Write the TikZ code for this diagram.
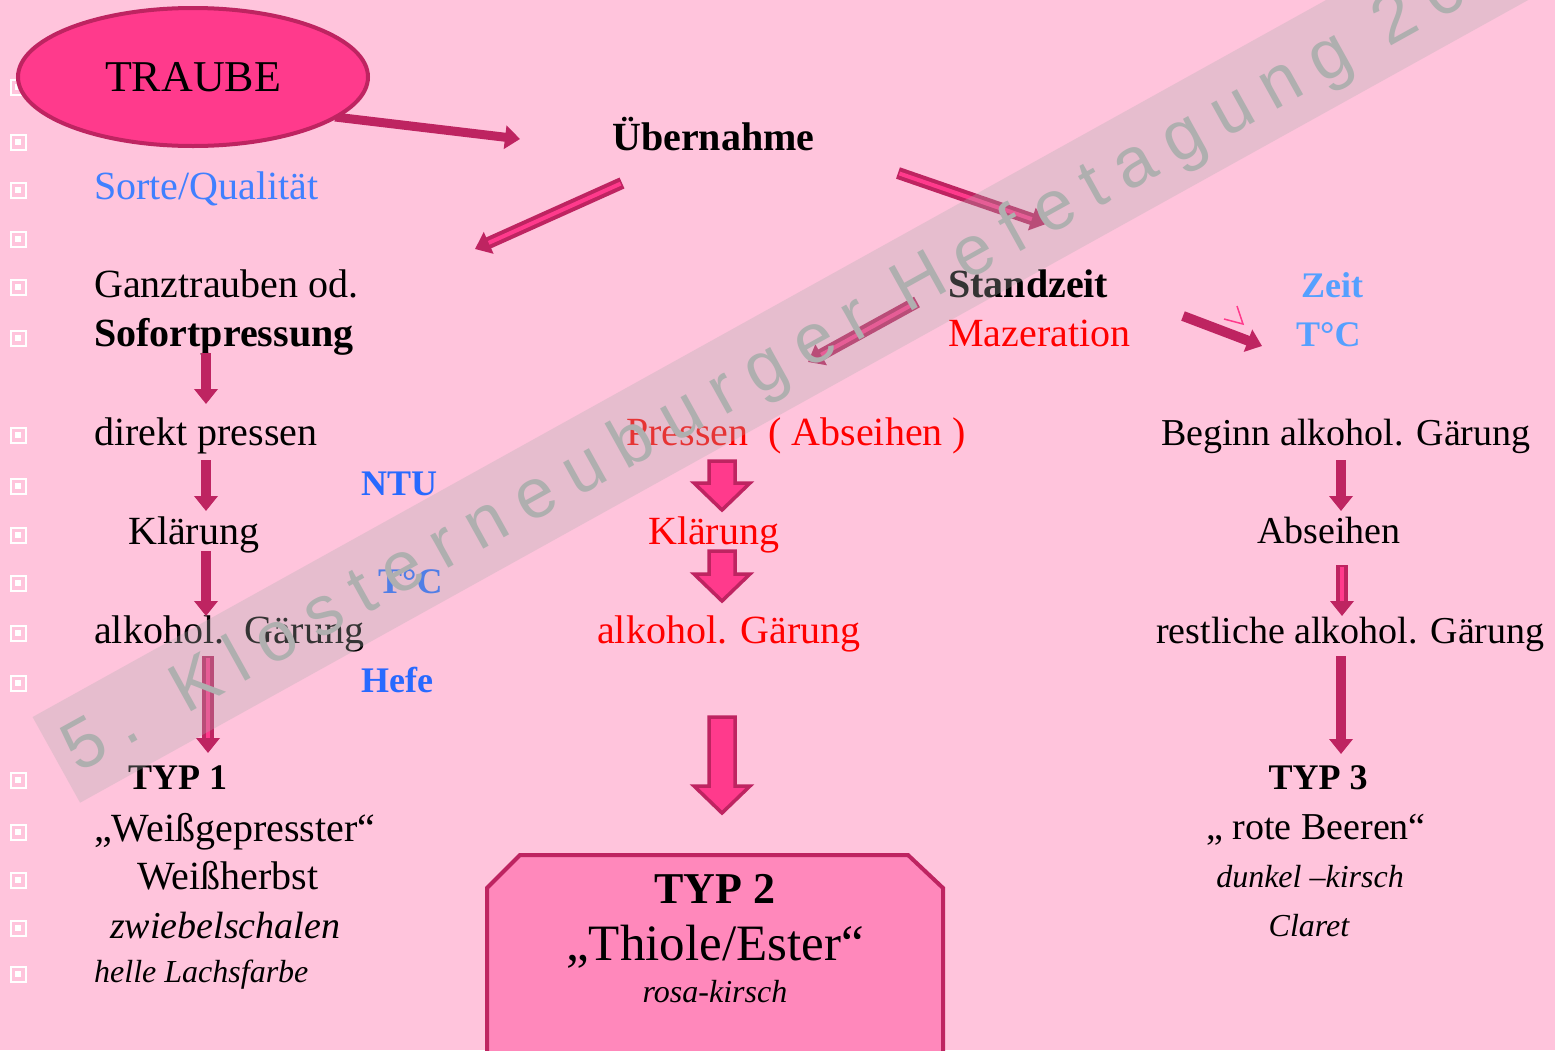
\documentclass[tikz,border=0pt]{standalone}
\usepackage{fontspec}
\setmainfont{Liberation Serif}
\newfontfamily\wmfont[LetterSpace=24]{Liberation Sans}
\usetikzlibrary{arrows.meta,shapes.geometric}
\definecolor{bgpink}{RGB}{255,196,220}
\definecolor{arrowdark}{RGB}{190,36,97}
\definecolor{hotpink}{RGB}{255,58,140}
\definecolor{boxpink}{RGB}{255,136,187}
\definecolor{sorteblue}{RGB}{64,128,255}
\definecolor{boldblue}{RGB}{40,105,255}
\definecolor{lightblue}{RGB}{85,160,255}
\definecolor{wmgray}{RGB}{175,175,175}
\newcommand{\arrowcolor}{arrowdark}
\newcommand{\stripecolor}{hotpink}
\tikzset{
  txt/.style={inner sep=0pt,anchor=base west,font=\fontsize{40}{48}\selectfont},
  ctxt/.style={txt,anchor=base},
  boldtxt/.style={txt,font=\fontsize{40}{48}\selectfont\bfseries},
  boldcaps/.style={txt,font=\fontsize{36}{44}\selectfont\bfseries},
  righttxt/.style={txt,font=\fontsize{38}{46}\selectfont},
  smallit/.style={txt,font=\fontsize{32}{38}\selectfont\itshape},
  traubeshape/.style={ellipse,minimum width=350pt,minimum height=138pt,inner sep=0pt,
    fill=hotpink,draw=arrowdark,line width=4pt,font=\fontsize{44}{52}\selectfont},
  thinarrow/.style={draw=\arrowcolor,line width=10pt,-{Triangle[width=23pt,length=15pt]}},
  stripe/.style={draw=\stripecolor,line width=4pt,shorten <=1.5pt,shorten >=15pt},
  blockarrow/.style={fill=\stripecolor,draw=\arrowcolor,line width=3.5pt,line join=miter},
  typbox/.style={fill=boxpink,draw=arrowdark,line width=4pt},
  wmband/.style={rotate=29,anchor=south west,minimum width=1900pt,minimum height=98pt,
    inner sep=0pt,fill=wmgray,fill opacity=0.3},
  wmtext/.style={rotate=29,anchor=base west,inner sep=0pt,text=wmgray,
    font=\wmfont\fontsize{70}{70}\selectfont}
}
\newcommand{\cpoint}[1]{
    % Connection Point (for Referencing, not Visible)
    % \cpoint{name}
    coordinate (#1)
}
\newcommand{\bulletbox}[2]{
    % Bullet (White Square Frame with Dot)
    % \bulletbox{name}{position}
    \path #2 \cpoint{#1};
    \draw[white,line width=2pt] (#1) ++(-7.5,-7.5) rectangle ++(15,15);
    \fill[white] (#1) ++(-3,-3) rectangle ++(6,6);
}
\newcommand{\arrowNS}[3]{
    % Thin Arrow in North-South Orientation
    % \arrowNS{name}{top position}{length}
    % node endings: N: north, S: south
    \path #2 \cpoint{#1N} ++(0,#3) \cpoint{#1S};
    \draw[thinarrow] (#1N) -- (#1S);
}
\newcommand{\stripearrow}[3]{
    % Thin Arrow with Light Stripe Inside
    % \stripearrow{name}{start}{end}
    % node endings: A: start, B: end
    \path #2 \cpoint{#1A} #3 \cpoint{#1B};
    \draw[thinarrow,line width=12pt] (#1A) -- (#1B);
    \draw[stripe] (#1A) -- (#1B);
}
\newcommand{\blockarrowNS}[3]{
    % Block Arrow in North-South Orientation
    % \blockarrowNS{name}{top position}{length}
    % node endings: N: north, S: south
    \path #2 \cpoint{#1N} ++(0,#3) \cpoint{#1S};
    \draw[blockarrow] (#1N) ++(-13,0) -- ++(26,0) -- ++(0,{#3-27}) -- ++(15,0)
        -- (#1S) -- ++(-28,-27) -- ++(15,0) -- cycle;
}

\begin{document}
\begin{tikzpicture}[x=1pt,y=-1pt]
  \fill[bgpink] (0,0) rectangle (1555,1050);
  \useasboundingbox (0,0) rectangle (1555,1050);
  \foreach \y [count=\i] in {87,142,190,239,287,338,435,486,535,583,633,683,780,832,880,928,974}
    \bulletbox{bullet\i}{(18,\y)};

  \path (520,139) \cpoint{traubeArrowEnd};
  \draw[thinarrow,line width=9pt] (193,77) ++(142,40) -- (traubeArrowEnd);
  \node (traube) [traubeshape] at (193,77) {TRAUBE};
  \node (uebernahme) [boldtxt] at (612,150) {Übernahme};
  \stripearrow{overLeft}{(622,183)}{(475,249)}
  \stripearrow{overRight}{(898,173)}{(1046,224)}

  \node (sorte) [txt,text=sorteblue] at (94,199) {Sorte/Qualität};
  \node (ganztrauben) [txt] at (94,297) {Ganztrauben od.};
  \node (sofort) [boldtxt] at (94,346) {Sofortpressung};
  \node (direkt) [txt] at (94,445) {direkt pressen};
  \node (ntu) [boldcaps,text=boldblue] at (361,495) {NTU};
  \node (klaerLeft) [txt] at (128,544) {Klärung};
  \node (tempLeft) [boldcaps,text=boldblue] at (378,593) {T°C};
  \node (gaerLeft) [txt] at (94,643) {alkohol.\ \ Gärung};
  \node (hefe) [boldcaps,text=boldblue] at (361,692) {Hefe};
  \node (typOne) [boldcaps] at (128,789) {TYP 1};
  \node (weissgepresst) [txt] at (94,841) {„Weißgepresster“};
  \node (weissherbst) [txt] at (137,889) {Weißherbst};
  \node (zwiebel) [txt,font=\fontsize{38}{46}\selectfont\itshape] at (110,938) {zwiebelschalen};
  \node (lachs) [smallit] at (94,982) {helle Lachsfarbe};
  \arrowNS{sofortArrow}{(206,353)}{51}
  \arrowNS{direktArrow}{(206,460)}{51}
  \arrowNS{klaerLeftArrow}{(206,551)}{65}
  \stripearrow{gaerLeftArrow}{(208,656)}{(208,753)}

  \node (standzeit) [boldtxt] at (948,297) {Standzeit};
  \node (mazeration) [txt,text=red] at (948,346) {Mazeration};
  \node (zeit) [boldcaps,text=lightblue] at (1301,297) {Zeit};
  \node (tempRight) [boldcaps,text=lightblue] at (1296,346) {T°C};
  \stripearrow{standArrow}{(917,302)}{(808,362)}
  \path (1183,316) \cpoint{mazArrowA} (1262,346) \cpoint{mazArrowB};
  \draw[thinarrow] (mazArrowA) -- (mazArrowB);
  \draw[hotpink,line width=1.5pt] (1237,306) -- (1243,324) -- (1224,319);

  \node (pressen) [txt,text=red] at (626,445) {Pressen\ \ ( Abseihen )};
  \node (klaerMid) [txt,text=red] at (648,544) {Klärung};
  \node (gaerMid) [txt,text=red] at (597,643) {alkohol. Gärung};
  \blockarrowNS{pressArrow}{(722,461)}{49}
  \blockarrowNS{klaerArrow}{(722,551)}{50}
  \blockarrowNS{typTwoArrow}{(722,717)}{96}
  \filldraw[typbox] (487,1062) -- (487,888) -- (520,855) -- (908,855) -- (943,888) -- (943,1062);
  \node (typTwo) [ctxt,font=\fontsize{44}{52}\selectfont\bfseries] at (715,903) {TYP 2};
  \node (thiole) [ctxt,font=\fontsize{51}{58}\selectfont] at (715,960) {„Thiole/Ester“};
  \node (rosa) [smallit,anchor=base] at (715,1002) {rosa-kirsch};

  \node (beginn) [righttxt] at (1161,445) {Beginn alkohol. Gärung};
  \node (abseihen) [righttxt,anchor=base] at (1329,543) {Abseihen};
  \node (restlich) [righttxt] at (1156,643) {restliche alkohol. Gärung};
  \node (typThree) [boldcaps,anchor=base] at (1318,789) {TYP 3};
  \node (roteBeeren) [righttxt,anchor=base] at (1316,839) {„ rote Beeren“};
  \node (dunkel) [smallit,anchor=base] at (1310,887) {dunkel –kirsch};
  \node (claret) [smallit,anchor=base] at (1309,936) {Claret};
  \arrowNS{beginnArrow}{(1341,460)}{51}
  \stripearrow{abseihArrow}{(1342,565)}{(1342,616)}
  \arrowNS{restArrow}{(1341,656)}{98}

  \node (wmBand) [wmband] at (80,803) {};
  \node (wmText) [wmtext] at (78,774) {5. Klosterneuburger Hefetagung 20};
\end{tikzpicture}
\end{document}
